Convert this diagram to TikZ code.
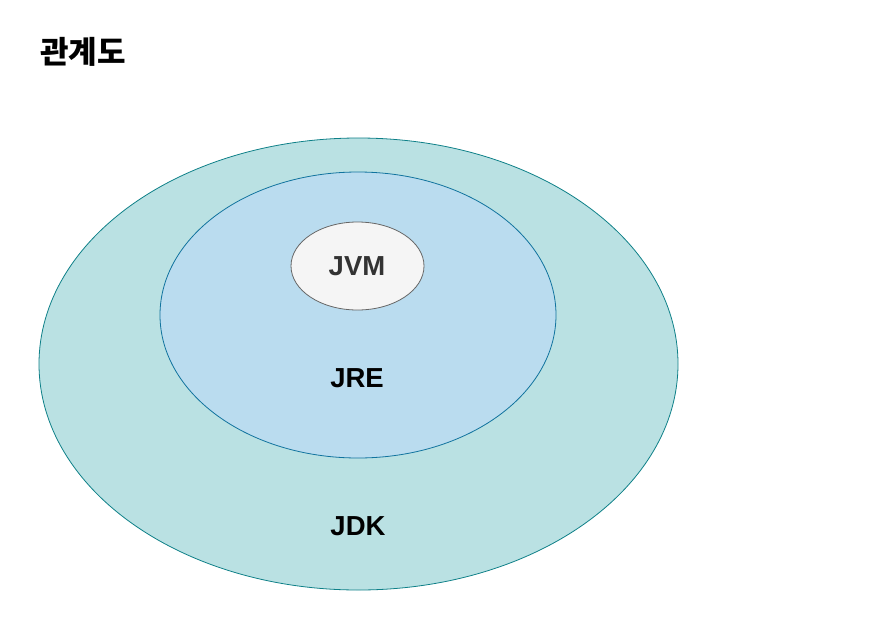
\documentclass[tikz,border=0pt]{standalone}
\usepackage{fontspec}
\setmainfont{Liberation Sans}
\newfontfamily\krfont{Noto Sans CJK KR}
\usetikzlibrary{shapes.geometric}
\definecolor{jdkfill}{HTML}{BAE1E3}
\definecolor{jdkdraw}{HTML}{0E8088}
\definecolor{jrefill}{HTML}{BADCEF}
\definecolor{jredraw}{HTML}{10739E}
\definecolor{jvmfill}{HTML}{F5F5F5}
\definecolor{jvmdraw}{HTML}{666666}
\definecolor{jvmtext}{HTML}{333333}
\tikzset{
  ell/.style={ellipse, inner sep=0pt, line width=0.8pt},
  lbl/.style={font=\fontsize{27.5}{31}\selectfont\bfseries, inner sep=0pt},
}
\begin{document}
\begin{tikzpicture}[x=1pt,y=-1pt]
\useasboundingbox (0,0) rectangle (872,616);
\node[ell, fill=jdkfill, draw=jdkdraw, minimum width=639pt, minimum height=452pt] (jdk) at (358.5,364) {};
\node[ell, fill=jrefill, draw=jredraw, minimum width=396pt, minimum height=286pt] (jre) at (358,315) {};
\node[ell, fill=jvmfill, draw=jvmdraw, minimum width=133pt, minimum height=88pt] (jvm) at (357.5,266) {};
\node[lbl, text=jvmtext] (jvmlbl) at (357,266) {JVM};
\node[lbl] (jrelbl) at (357,378) {JRE};
\node[lbl] (jdklbl) at (358,526) {JDK};
\node[anchor=west, inner sep=0pt, font=\krfont\fontsize{31}{34}\selectfont\bfseries] (title) at (40,52) {관계도};
\end{tikzpicture}
\end{document}
